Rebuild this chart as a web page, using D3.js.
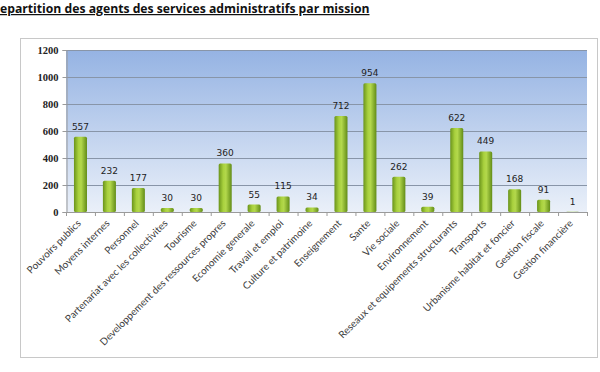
<!DOCTYPE html>
<html>
<head>
<meta charset="utf-8">
<script src="https://cdn.jsdelivr.net/npm/d3@7"></script>
<style>
  body { margin: 0; background: #fff; }
  svg { display: block; }
</style>
</head>
<body>
<div id="chart"></div>
<script>
const W = 600, H = 372

const missions = ['Pouvoirs publics', 'Moyens internes', 'Personnel', 'Partenariat avec les collectivites',
  'Tourisme', 'Developpement des ressources propres', 'Economie generale', 'Travail et emploi',
  'Culture et patrimoine', 'Enseignement', 'Sante', 'Vie sociale', 'Environnement',
  'Reseaux et equipements structurants', 'Transports', 'Urbanisme habitat et foncier',
  'Gestion fiscale', 'Gestion financière']
const agents = [557, 232, 177, 30, 30, 360, 55, 115, 34, 712, 954, 262, 39, 622, 449, 168, 91, 1]
const yTicks = [0, 200, 400, 600, 800, 1000, 1200]

const plot = {left: 66, right: 587, top: 50, bottom: 212}

const svg = d3.select('#chart').append('svg')
  .attr('width', W)
  .attr('height', H)

const defs = svg.append('defs')

// plot background: blue at top fading to almost white
const bg = defs.append('linearGradient')
  .attr('id', 'bgGrad')
  .attr('x1', 0).attr('y1', 0).attr('x2', 0).attr('y2', 1)
bg.append('stop').attr('offset', '0%').attr('stop-color', '#95b3e3')
bg.append('stop').attr('offset', '100%').attr('stop-color', '#eaf0f9')

// cylinder-like green for the bars
const bar = defs.append('linearGradient')
  .attr('id', 'barGrad')
  .attr('x1', 0).attr('y1', 0).attr('x2', 1).attr('y2', 0)
bar.append('stop').attr('offset', '0%').attr('stop-color', '#6a941b')
bar.append('stop').attr('offset', '35%').attr('stop-color', '#a9d13e')
bar.append('stop').attr('offset', '55%').attr('stop-color', '#b3d84c')
bar.append('stop').attr('offset', '100%').attr('stop-color', '#628c17')

// title (the scan cuts the first letter off at the page edge)
svg.append('text')
  .attr('x', 0)
  .attr('y', 13)
  .attr('font-family', 'Open Sans, sans-serif')
  .attr('font-weight', 'bold')
  .attr('font-size', 12.2)
  .attr('text-decoration', 'underline')
  .attr('fill', '#111')
  .text('epartition des agents des services administratifs par mission')

// outer chart frame
svg.append('rect')
  .attr('x', 20.5).attr('y', 38.5)
  .attr('width', 577).attr('height', 319)
  .attr('fill', '#fff')
  .attr('stroke', '#c8c8c8')
  .attr('stroke-width', 1)

const x = d3.scaleBand()
  .domain(missions)
  .range([plot.left, plot.right])
  .paddingInner(0.55)
  .paddingOuter(0.275)

const y = d3.scaleLinear()
  .domain([0, 1200])
  .range([plot.bottom, plot.top])

svg.append('rect')
  .attr('x', plot.left).attr('y', plot.top)
  .attr('width', plot.right - plot.left)
  .attr('height', plot.bottom - plot.top)
  .attr('fill', 'url(#bgGrad)')

// gridlines
svg.append('g')
  .selectAll('line')
  .data(yTicks.filter(d => d > 0))
  .enter()
  .append('line')
  .attr('x1', plot.left).attr('x2', plot.right)
  .attr('y1', d => y(d) + 0.5).attr('y2', d => y(d) + 0.5)
  .attr('stroke', '#8895a8')
  .attr('stroke-width', 1)

// y axis
const yAxis = svg.append('g')
  .attr('transform', 'translate(' + (plot.left + 0.5) + ',0)')
  .call(d3.axisLeft(y).tickValues(yTicks).tickSize(4).tickPadding(4).tickFormat(d3.format('d')))
yAxis.select('.domain').attr('stroke', '#9a9a9a')
yAxis.selectAll('.tick line').attr('stroke', '#9a9a9a')
yAxis.selectAll('text')
  .attr('font-family', 'Liberation Serif, serif')
  .attr('font-weight', 'bold')
  .attr('font-size', 10.5)
  .attr('fill', '#222')

// x axis: tick marks between categories
const step = x.step()
const xAxis = svg.append('g')
xAxis.append('line')
  .attr('x1', plot.left).attr('x2', plot.right)
  .attr('y1', plot.bottom + 0.5).attr('y2', plot.bottom + 0.5)
  .attr('stroke', '#9a9a9a')
xAxis.selectAll('.sep')
  .data(d3.range(missions.length + 1))
  .enter()
  .append('line')
  .attr('class', 'sep')
  .attr('x1', i => plot.left + i * step + 0.5)
  .attr('x2', i => plot.left + i * step + 0.5)
  .attr('y1', plot.bottom).attr('y2', plot.bottom + 4)
  .attr('stroke', '#9a9a9a')

xAxis.selectAll('.lab')
  .data(missions)
  .enter()
  .append('text')
  .attr('class', 'lab')
  .attr('text-anchor', 'end')
  .attr('font-family', 'Lato, sans-serif')
  .attr('font-size', 10)
  .attr('fill', '#404040')
  .attr('transform', d => 'translate(' + (x(d) + x.bandwidth() / 2 + 1) + ',' + (plot.bottom + 12) + ') rotate(-45)')
  .text(d => d)

// bars
svg.append('g')
  .selectAll('rect')
  .data(agents)
  .enter()
  .append('rect')
  .attr('x', (d, i) => x(missions[i]))
  .attr('y', d => y(d))
  .attr('width', x.bandwidth())
  .attr('height', d => plot.bottom - y(d))
  .attr('rx', 1.5)
  .attr('fill', 'url(#barGrad)')

// value labels
svg.append('g')
  .selectAll('text')
  .data(agents)
  .enter()
  .append('text')
  .attr('x', (d, i) => x(missions[i]) + x.bandwidth() / 2)
  .attr('y', d => y(d) - 7)
  .attr('text-anchor', 'middle')
  .attr('font-family', 'DejaVu Sans, sans-serif')
  .attr('font-size', 9)
  .attr('fill', '#222')
  .text(d => d)
</script>
</body>
</html>
